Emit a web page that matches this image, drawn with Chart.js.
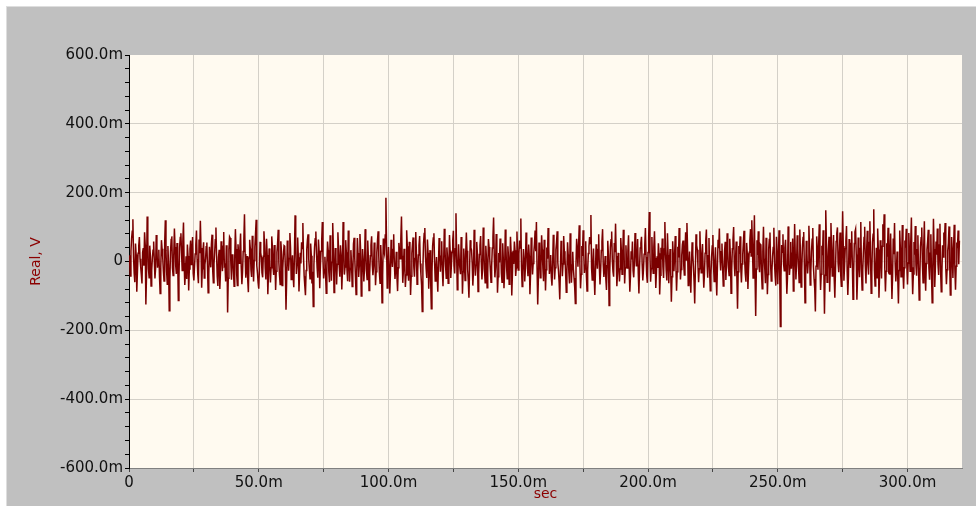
<!DOCTYPE html>
<html>
<head>
<meta charset="utf-8">
<script src="https://cdn.jsdelivr.net/npm/chart.js@4.4.1/dist/chart.umd.min.js"></script>
<style>
  html, body { margin: 0; padding: 0; background: #fff; }
  canvas { display: block; }
</style>
</head>
<body>
<canvas id="myChart" width="976" height="506"></canvas>
<script>
// sample spacing (ms) and the trace values (mV)
var dt = 0.25;
var volts = [
  18,-5,-42,30,67,88,123,12,-35,-60,52,20,-88,-31,24,45,71,8,-15,-38,
  -64,27,39,-12,85,49,-125,-40,131,60,-22,-47,46,15,-71,-25,9,33,58,3,
  -49,-20,77,41,-18,6,34,-44,-93,-15,62,37,11,-28,-57,52,120,33,-30,-66,
  45,-10,-143,-52,28,64,73,-19,-41,18,96,42,-12,-36,54,11,-113,-48,40,70,
  82,25,-26,58,113,-4,-68,-33,15,-51,49,16,-84,-22,37,61,-9,29,71,-35,
  -55,-14,22,48,90,7,-37,-63,64,24,118,39,-76,-21,31,56,-48,-9,8,43,
  55,-16,-91,-37,43,12,-17,50,78,-25,-62,-8,26,63,99,17,-44,-71,13,34,
  -80,-30,59,21,-28,44,86,-13,-10,-58,47,26,-148,-49,35,72,68,-6,-53,19,
  21,-29,-72,14,94,36,-38,-70,50,23,-5,41,81,-17,-66,-31,29,60,137,22,
  -47,-19,16,-54,-89,10,63,38,-24,-45,75,28,-58,3,42,79,121,-12,-33,-61,
  -79,-24,57,26,12,-33,-46,15,88,47,-20,-52,66,19,-95,-37,38,8,-61,-18,
  73,44,-14,-39,48,6,-83,-28,27,51,92,-3,-40,-67,59,30,-70,-21,19,46,
  44,-18,-140,-55,61,29,-27,9,83,40,-52,-13,18,-42,-75,20,134,57,-36,-9,
  70,12,-87,-34,25,-6,56,38,112,14,-43,-71,-98,-26,35,62,79,8,-22,-50,
  52,17,-64,-30,-131,-11,41,66,87,24,-19,-47,64,31,-78,-14,30,58,115,6,
  -49,-23,14,-38,-92,-5,58,33,-31,-60,76,21,-56,-2,112,45,-90,-41,39,11,
  -67,-8,85,36,-12,-44,47,19,-81,-27,115,42,-38,-16,62,27,-24,-57,90,13,
  -59,-20,33,-7,-73,-35,51,69,9,-41,-96,-33,68,25,-45,-12,80,34,-100,-46,
  36,5,-58,-21,94,39,-27,-52,61,10,-84,-36,17,48,73,-9,-40,-15,55,22,
  -69,-30,26,59,88,16,-34,-63,48,2,-120,-41,67,30,21,77,185,48,-77,-24,
  42,-13,-93,-34,63,20,-16,35,79,-4,-51,-22,28,-45,-86,-18,54,31,8,66,
  131,17,-62,-25,37,-8,-74,-39,91,44,-29,-56,57,12,-97,-43,24,50,70,-15,
  -44,9,86,27,-66,-28,19,47,74,-6,-38,-69,-145,-20,52,81,97,14,-21,-48,
  64,25,-79,-16,33,-58,-137,-31,45,68,82,-1,-57,-24,13,-40,-88,-10,68,36,
  -30,15,59,-26,-72,-4,95,43,-14,-49,41,11,-63,-19,77,32,-48,-8,26,60,
  89,-12,-35,37,140,21,-82,-46,50,7,-19,-37,71,28,-94,-30,38,-3,-55,22,
  84,31,-23,-58,-105,-17,62,40,33,-5,-70,-29,92,19,-41,-11,57,24,-87,-36,
  20,47,74,-2,-52,-20,99,36,-28,-62,46,9,-76,-33,65,42,11,-27,-60,-14,
  39,71,128,18,-46,-15,80,29,-91,-44,25,-3,67,38,-34,-60,53,6,-78,-26,
  93,41,-17,-50,44,12,-66,-21,72,27,-99,-39,31,-7,58,33,-42,-18,87,21,
  -25,22,61,39,125,-16,-73,-30,36,8,-58,-19,84,45,-11,-43,49,17,-95,-34,
  70,26,-38,-6,27,51,90,30,115,-21,-125,-52,55,19,-47,-14,76,35,-20,-57,
  63,13,-84,-24,41,8,97,42,-36,-12,19,-46,-70,-9,78,26,-52,-18,34,55,
  88,-4,-27,-61,-110,-23,60,37,-43,-7,74,30,14,-35,-89,-28,56,20,-31,-64,
  82,29,-62,-10,28,-22,-48,-75,-122,-8,66,34,-15,48,105,-6,-78,-37,45,16,
  91,23,-33,-11,59,-39,-86,-25,23,44,71,52,135,-19,-54,-2,38,-42,-97,-31,
  50,9,-21,35,79,-14,-67,-26,32,57,94,-8,-45,-20,16,-51,-83,-12,60,18,
  -128,-37,41,63,87,4,-29,-44,54,27,110,16,-72,-33,25,-9,-58,-22,68,30,
  -37,12,92,40,-64,-18,47,-7,-19,31,76,-22,-88,-41,30,6,58,-27,-46,-3,
  83,37,-12,20,65,-35,-93,-16,39,54,72,-8,-55,-24,21,47,97,13,-40,-62,
  26,68,144,25,-59,-20,71,-3,-34,42,88,10,-77,-32,15,-19,53,24,-96,-40,
  40,6,67,-15,-48,36,115,28,-25,-55,82,19,-63,-6,36,-30,-117,-44,59,14,
  -28,19,74,-11,-85,-30,43,12,97,35,-52,-23,18,49,61,-8,-39,26,85,4,
  112,38,-70,-17,29,-45,-91,-9,56,21,-14,-58,-122,-27,79,48,34,-13,-60,-21,
  88,22,-33,14,51,-20,-76,-36,24,60,93,-5,-47,17,68,-29,-85,-40,12,45,
  77,-12,-58,-2,41,-44,-99,-15,63,39,96,7,-26,28,52,-19,-71,-34,30,57,
  -54,-9,82,31,-17,-41,66,14,-92,-25,37,63,100,-6,-43,11,58,-48,-137,-30,
  45,22,73,-18,-61,-7,20,55,89,3,-36,-59,54,24,-80,-20,27,61,94,16,
  120,43,-48,25,134,-40,-158,-22,62,19,88,-14,-31,50,47,-35,-79,28,101,8,
  -22,-63,69,16,-95,-38,36,64,84,-10,-57,-27,15,41,98,-5,-43,-70,72,26,
  -66,12,91,-34,-189,-44,48,27,79,-8,-27,40,63,-19,-94,-47,102,33,-39,-12,
  57,-21,24,67,-86,-30,109,18,-52,-6,76,38,-18,-61,93,22,-74,-26,41,70,
  86,-11,-120,-43,60,24,-35,-2,104,37,-68,-29,29,65,97,-16,-51,-78,-145,-14,
  73,30,-24,46,108,-9,-83,-37,46,18,91,-22,-152,-40,149,57,-60,-25,35,72,
  -88,-17,112,33,-42,10,77,-49,-105,-23,58,81,99,-5,-31,26,84,-36,-72,14,
  146,45,-56,-12,38,60,103,-28,-97,-41,65,19,-19,52,88,-8,-110,-34,52,86,
  94,20,-111,-45,70,-3,-46,38,115,-20,-83,-26,27,70,101,-13,-64,32,89,-8,
  -38,55,117,12,-92,-31,56,79,152,-24,-71,-16,40,-47,96,35,-105,-39,62,15,
  -49,44,108,62,137,-21,-87,-28,53,14,98,-33,-36,30,81,-15,-109,-42,67,21,
  112,-7,-58,-19,29,-50,-122,-26,90,38,-44,9,106,-31,-79,-18,61,40,95,-12,
  -67,-4,83,27,-28,56,128,-17,-95,-36,57,20,103,-11,-41,34,76,-25,-112,-46,
  44,69,99,-8,-62,43,117,-30,-85,-6,35,58,92,-19,-53,24,79,-40,-120,-22,
  124,36,-74,-15,58,20,96,-9,-39,48,110,-27,-88,-33,47,13,84,62,112,-18,
  -66,-24,31,53,102,-3,-97,-42,71,25,-48,37,107,-21,-82,-14,55,39,90,-8,
  60
];
var yTicks = [-600, -400, -200, 0, 200, 400, 600];
var xTicks = [0, 50, 100, 150, 200, 250, 300];

var points = volts.map(function (v, i) { return { x: i * dt, y: v }; });

function mlabel(v) {
  return v === 0 ? '0' : v.toFixed(1) + 'm';
}

var gridColor = '#d4d0c8';
var tickFont = { family: 'DejaVu Sans', size: 15 };
var titleFont = { family: 'DejaVu Sans', size: 14 };

// gray panel + cream plot area
var background = {
  id: 'background',
  beforeDraw: function (chart) {
    var c = chart.ctx, a = chart.chartArea;
    c.save();
    c.fillStyle = '#ffffff';
    c.fillRect(0, 0, chart.width, chart.height);
    c.fillStyle = '#c0c0c0';
    c.fillRect(6, 6, chart.width - 6, chart.height - 6);
    c.fillStyle = '#dedede';
    c.fillRect(6, 6, chart.width - 6, 1);
    c.fillRect(6, 6, 1, chart.height - 6);
    c.fillStyle = '#fffaf0';
    c.fillRect(a.left, a.top, a.right - a.left, a.bottom - a.top);
    c.restore();
  }
};

new Chart("myChart", {
  type: "line",
  data: {
    datasets: [{
      data: points,
      borderColor: '#7a0000',
      borderWidth: 1.5,
      pointRadius: 0,
      tension: 0,
      fill: false
    }]
  },
  options: {
    responsive: false,
    animation: false,
    devicePixelRatio: 1,
    layout: { padding: { top: 55, right: 14, left: 0, bottom: 0 } },
    plugins: {
      legend: { display: false },
      tooltip: { enabled: false }
    },
    scales: {
      x: {
        type: 'linear',
        min: 0,
        max: 321,
        z: 1,
        afterBuildTicks: function (s) {
          s.ticks = s.ticks.filter(function (t) { return t.value % 25 === 0; });
        },
        afterFit: function (s) { s.height = 38; },
        ticks: {
          stepSize: 25,
          autoSkip: false,
          maxRotation: 0,
          padding: 2,
          color: '#111',
          font: tickFont,
          callback: function (v) { return xTicks.indexOf(v) >= 0 ? mlabel(v) : ''; }
        },
        grid: {
          color: function (ctx) { return ctx.tick && ctx.tick.value === 0 ? 'rgba(0,0,0,0)' : gridColor; },
          tickColor: '#444',
          tickLength: 4
        },
        border: { display: true, color: '#808080', width: 1 },
        title: {
          display: true,
          text: 'sec',
          color: '#8b0000',
          font: titleFont,
          padding: { top: 0, bottom: 3 }
        }
      },
      y: {
        min: -600,
        max: 600,
        z: 1,
        afterFit: function (s) { s.width = 129; },
        ticks: {
          stepSize: 40,
          autoSkip: false,
          padding: 2,
          color: '#111',
          font: tickFont,
          callback: function (v) { return yTicks.indexOf(v) >= 0 ? mlabel(v) : ''; }
        },
        grid: {
          color: function (ctx) {
            var v = ctx.tick ? ctx.tick.value : null;
            if (v === 0) return '#eee4da';
            if (v === 600 || v === -600) return 'rgba(0,0,0,0)';
            return yTicks.indexOf(v) >= 0 ? gridColor : 'rgba(0,0,0,0)';
          },
          tickColor: '#000',
          tickLength: 4
        },
        border: { display: true, color: '#000', width: 1 },
        title: {
          display: true,
          text: 'Real, V',
          color: '#8b0000',
          font: titleFont,
          padding: { top: 28, bottom: 0 }
        }
      }
    }
  },
  plugins: [background]
});
</script>
</body>
</html>
